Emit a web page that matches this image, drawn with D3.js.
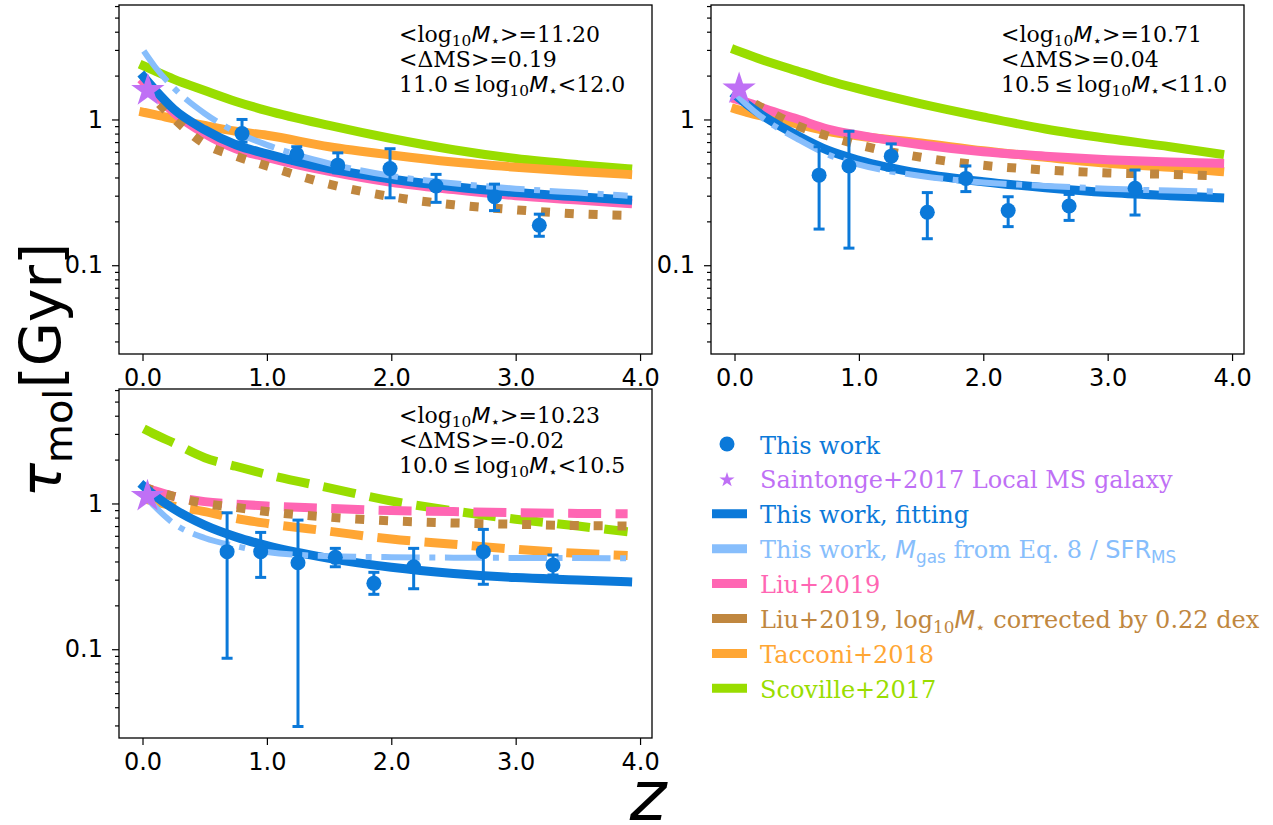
<!DOCTYPE html>
<html><head><meta charset="utf-8">
<script src="https://cdn.jsdelivr.net/npm/d3@7"></script>
<style>body{margin:0;background:#fff;} svg{display:block;}</style>
</head><body>
<svg id="chart" width="1273" height="825"></svg>
<script>
// ---------------- DATA ----------------
const zGrid = [0.01, 0.1, 0.25, 0.5, 0.75, 1.0, 1.5, 2.0, 2.5, 3.0, 3.5, 3.9];

// Panel 1: 11.0 <= log M < 12.0
const p1Scoville  = [2.33, 2.15, 1.89, 1.58, 1.33, 1.15, 0.91, 0.74, 0.62, 0.54, 0.49, 0.46];
const p1Tacconi   = [1.12, 1.08, 1.01, 0.91, 0.83, 0.78, 0.65, 0.57, 0.51, 0.47, 0.44, 0.42];
const p1Liu       = [1.80, 1.50, 1.12, 0.80, 0.63, 0.55, 0.44, 0.37, 0.33, 0.30, 0.28, 0.265];
const p1LiuCorr   = [1.70, 1.38, 1.02, 0.68, 0.56, 0.48, 0.36, 0.295, 0.26, 0.24, 0.225, 0.22];
const p1Fit       = [1.96, 1.60, 1.18, 0.85, 0.67, 0.58, 0.46, 0.39, 0.345, 0.315, 0.295, 0.28];
const p1Eq8       = [2.95, 2.30, 1.65, 1.10, 0.82, 0.67, 0.50, 0.41, 0.365, 0.335, 0.315, 0.30];
const p1Z   = [0.80, 1.24, 1.57, 1.99, 2.36, 2.83, 3.19];
const p1Tau = [0.80, 0.577, 0.486, 0.46, 0.35, 0.295, 0.188];
const p1Hi  = [1.00, 0.65, 0.59, 0.63, 0.42, 0.36, 0.224];
const p1Lo  = [0.70, 0.50, 0.43, 0.29, 0.27, 0.237, 0.158];
const p1Star = [0.043, 1.58];

// Panel 2: 10.5 <= log M < 11.0
const p2Scoville  = [2.99, 2.80, 2.52, 2.16, 1.85, 1.62, 1.28, 1.04, 0.86, 0.74, 0.65, 0.58];
const p2Tacconi   = [1.18, 1.12, 1.04, 0.93, 0.83, 0.77, 0.69, 0.61, 0.55, 0.50, 0.47, 0.44];
const p2Liu       = [1.38, 1.31, 1.18, 1.01, 0.86, 0.78, 0.67, 0.60, 0.56, 0.53, 0.51, 0.50];
const p2LiuCorr   = [1.60, 1.38, 1.17, 0.91, 0.77, 0.67, 0.55, 0.485, 0.45, 0.43, 0.42, 0.41];
const p2Fit       = [1.46, 1.27, 1.03, 0.78, 0.615, 0.525, 0.426, 0.374, 0.34, 0.315, 0.30, 0.29];
const p2Eq8       = [1.50, 1.26, 0.99, 0.74, 0.575, 0.49, 0.41, 0.37, 0.35, 0.335, 0.325, 0.32];
const p2Z   = [0.68, 0.92, 1.26, 1.55, 1.86, 2.20, 2.69, 3.22];
const p2Tau = [0.415, 0.48, 0.56, 0.231, 0.394, 0.237, 0.255, 0.337];
const p2Hi  = [0.65, 0.83, 0.68, 0.315, 0.48, 0.295, 0.306, 0.45];
const p2Lo  = [0.177, 0.131, 0.45, 0.152, 0.32, 0.184, 0.203, 0.221];
const p2Star = [0.037, 1.62];

// Panel 3: 10.0 <= log M < 10.5
const p3Scoville  = [3.26, 2.98, 2.60, 2.06, 1.80, 1.58, 1.28, 1.04, 0.89, 0.78, 0.70, 0.64];
const p3Tacconi   = [1.08, 1.03, 0.96, 0.88, 0.79, 0.73, 0.645, 0.57, 0.525, 0.485, 0.455, 0.44];
const p3Liu       = [1.30, 1.22, 1.12, 1.03, 0.99, 0.96, 0.925, 0.895, 0.88, 0.865, 0.855, 0.85];
const p3LiuCorr   = [1.30, 1.22, 1.12, 1.00, 0.94, 0.88, 0.805, 0.76, 0.735, 0.72, 0.705, 0.70];
const p3Fit       = [1.31, 1.13, 0.92, 0.71, 0.59, 0.513, 0.42, 0.365, 0.331, 0.31, 0.299, 0.29];
const p3Eq8       = [1.15, 0.95, 0.73, 0.58, 0.51, 0.465, 0.435, 0.428, 0.425, 0.423, 0.422, 0.42];
const p3Z   = [0.68, 0.95, 1.25, 1.55, 1.86, 2.18, 2.74, 3.30];
const p3Tau = [0.467, 0.467, 0.392, 0.427, 0.283, 0.368, 0.467, 0.378];
const p3Hi  = [0.863, 0.633, 0.769, 0.492, 0.337, 0.492, 0.664, 0.443];
const p3Lo  = [0.0867, 0.311, 0.0295, 0.368, 0.238, 0.26, 0.279, 0.323];
const p3Star = [0.04, 1.12];

// Annotation values
const meanMass = ["11.20", "10.71", "10.23"];
const meanDMS  = ["0.19", "0.04", "-0.02"];
const massLo   = ["11.0", "10.5", "10.0"];
const massHi   = ["12.0", "11.0", "10.5"];

// Ticks
const xTicks = [0, 1, 2, 3, 4];
const xTickLabels = ["0.0", "1.0", "2.0", "3.0", "4.0"];
const yTicks = [0.1, 1];
const yTickLabels = ["0.1", "1"];
const yMinorTicks = [0.03,0.04,0.05,0.06,0.07,0.08,0.09,0.2,0.3,0.4,0.5,0.6,0.7,0.8,0.9,2,3,4,5,6];

// ---------------- STYLE ----------------
const C = {
  blue: "#0b79d9", light: "#87befc", pink: "#ff66b3", brown: "#c0873f",
  orange: "#ffa634", green: "#99dd00", purple: "#bf70f5"
};
const SERIF = "DejaVu Serif", SANS = "DejaVu Sans";
const W = 533, H = 349;

const svg = d3.select("#chart");

const x = d3.scaleLinear().domain([-0.189, 4.096]).range([0, W]);
const y = d3.scaleLog().domain([0.0246, 6.1]).range([H, 0]);

function rich(textSel, segs, size) {
  let shifted = 0;
  segs.forEach(s => {
    const ts = textSel.append("tspan").text(s.t);
    const fs = s.sub ? size * 0.7 : size;
    ts.attr("font-size", fs)
      .attr("font-family", s.f === "sans" ? SANS : SERIF)
      .attr("font-style", s.it ? "italic" : "normal");
    const target = s.sub ? size * 0.2 : 0;
    const d = target - shifted;
    if (d !== 0) ts.attr("dy", d);
    shifted = target;
  });
}

const dashed = "33 14.4", dotted = "9 14.85", dashdot = "38.4 9.6 6 9.6";

const panels = [
  { x0: 119, y0: 5, ann: 0, annX: 399, annY: 37,
    series: [
      {v: p1Scoville, c: C.green, dash: null, w: 9},
      {v: p1Tacconi, c: C.orange, dash: null, w: 9},
      {v: p1Liu, c: C.pink, dash: null, w: 9},
      {v: p1LiuCorr, c: C.brown, dash: dotted, w: 9},
      {v: p1Fit, c: C.blue, dash: null, w: 9},
      {v: p1Eq8, c: C.light, dash: dashdot, w: 6}],
    pz: p1Z, pt: p1Tau, ph: p1Hi, pl: p1Lo, star: p1Star },
  { x0: 711, y0: 5, ann: 1, annX: 1001, annY: 37,
    series: [
      {v: p2Scoville, c: C.green, dash: null, w: 9},
      {v: p2Tacconi, c: C.orange, dash: null, w: 9},
      {v: p2Liu, c: C.pink, dash: null, w: 9},
      {v: p2LiuCorr, c: C.brown, dash: dotted, w: 9},
      {v: p2Fit, c: C.blue, dash: null, w: 9},
      {v: p2Eq8, c: C.light, dash: dashdot, w: 6}],
    pz: p2Z, pt: p2Tau, ph: p2Hi, pl: p2Lo, star: p2Star },
  { x0: 119, y0: 389, ann: 2, annX: 399, annY: 34,
    series: [
      {v: p3Scoville, c: C.green, dash: dashed, w: 9},
      {v: p3Tacconi, c: C.orange, dash: dashed, w: 9},
      {v: p3Liu, c: C.pink, dash: dashed, w: 9},
      {v: p3LiuCorr, c: C.brown, dash: dotted, w: 9},
      {v: p3Fit, c: C.blue, dash: null, w: 9},
      {v: p3Eq8, c: C.light, dash: dashdot, w: 6}],
    pz: p3Z, pt: p3Tau, ph: p3Hi, pl: p3Lo, star: p3Star }
];

const line = d3.line().x(d => x(d[0])).y(d => y(d[1])).curve(d3.curveMonotoneX);

panels.forEach((p, pi) => {
  const g = svg.append("g").attr("transform", `translate(${p.x0},${p.y0})`);
  const clipId = "clip" + pi;
  g.append("clipPath").attr("id", clipId).append("rect").attr("width", W).attr("height", H);
  const plot = g.append("g").attr("clip-path", `url(#${clipId})`);

  p.series.forEach(s => {
    const data = zGrid.map((z, i) => [z, s.v[i]]);
    plot.append("path").attr("d", line(data))
      .attr("fill", "none").attr("stroke", s.c).attr("stroke-width", s.w)
      .attr("stroke-dasharray", s.dash)
      .attr("stroke-linecap", s.dash ? "butt" : "square")
      .attr("stroke-linejoin", "round");
  });

  // error bars
  p.pz.forEach((z, i) => {
    const cx = x(z);
    plot.append("line").attr("x1", cx).attr("x2", cx)
      .attr("y1", y(p.pl[i])).attr("y2", y(p.ph[i]))
      .attr("stroke", C.blue).attr("stroke-width", 3);
    [p.pl[i], p.ph[i]].forEach(v => {
      plot.append("line").attr("x1", cx - 5.5).attr("x2", cx + 5.5)
        .attr("y1", y(v)).attr("y2", y(v))
        .attr("stroke", C.blue).attr("stroke-width", 3);
    });
    plot.append("circle").attr("cx", cx).attr("cy", y(p.pt[i])).attr("r", 7.5).attr("fill", C.blue);
  });

  // star
  plot.append("path").attr("d", d3.symbol(d3.symbolStar, 17.5 * 17.5 / 0.8908130915))
    .attr("transform", `translate(${x(p.star[0])},${y(p.star[1])})`)
    .attr("fill", C.purple);

  // axes
  const xa = g.append("g").attr("transform", `translate(0,${H})`)
    .call(d3.axisBottom(x).tickValues(xTicks).tickFormat((d, i) => xTickLabels[i]).tickSize(7).tickPadding(8));
  const ya = g.append("g")
    .call(d3.axisLeft(y).tickValues(yTicks).tickFormat((d, i) => yTickLabels[i]).tickSize(7).tickPadding(9));
  const ym = g.append("g")
    .call(d3.axisLeft(y).tickValues(yMinorTicks).tickFormat("").tickSize(4));
  [xa, ya, ym].forEach(a => {
    a.select(".domain").remove();
    a.selectAll("line").attr("stroke", "#000").attr("stroke-width", 1.2);
    a.selectAll("text").attr("font-family", SANS).attr("font-size", 24).attr("fill", "#000");
  });
  g.append("rect").attr("width", W).attr("height", H).attr("fill", "none")
    .attr("stroke", "#000").attr("stroke-width", 1.3);

  // annotation
  const k = p.ann;
  const lines = [
    [{t: "<log"}, {t: "10", sub: true}, {t: "M", f: "sans", it: true}, {t: "\u22C6", f: "sans", sub: true}, {t: ">=" + meanMass[k]}],
    [{t: "<\u0394MS>=" + meanDMS[k]}],
    [{t: massLo[k] + "\u2009\u2264\u2009log"}, {t: "10", sub: true}, {t: "M", f: "sans", it: true}, {t: "\u22C6", f: "sans", sub: true}, {t: "<" + massHi[k]}]
  ];
  lines.forEach((segs, li) => {
    const t = svg.append("text").attr("x", p.annX).attr("y", p.y0 + p.annY + li * 25).attr("fill", "#000");
    rich(t, segs, 22);
  });
});

// Y label
const yl = svg.append("text").attr("transform", "translate(61,370) rotate(-90)")
  .attr("text-anchor", "middle").attr("fill", "#000");
rich(yl, [{t: "\u03C4", f: "sans", it: true}, {t: "mol", f: "sans", sub: true}, {t: "[Gyr]", f: "sans"}], 57);

// X label
svg.append("text").attr("x", 648).attr("y", 820).attr("text-anchor", "middle")
  .attr("font-family", SANS).attr("font-style", "italic").attr("font-size", 70).text("z");

// Legend
const legendItems = [
  {kind: "circle", c: C.blue, segs: [{t: "This work"}]},
  {kind: "star", c: C.purple, segs: [{t: "Saintonge+2017 Local MS galaxy"}]},
  {kind: "line", c: C.blue, segs: [{t: "This work, fitting"}]},
  {kind: "line", c: C.light, segs: [{t: "This work, "}, {t: "M", f: "sans", it: true}, {t: "gas", f: "sans", sub: true}, {t: " from Eq. 8 / "}, {t: "SFR", f: "sans"}, {t: "MS", f: "sans", sub: true}]},
  {kind: "line", c: C.pink, segs: [{t: "Liu+2019"}]},
  {kind: "line", c: C.brown, segs: [{t: "Liu+2019, log"}, {t: "10", sub: true}, {t: "M", f: "sans", it: true}, {t: "\u22C6", f: "sans", sub: true}, {t: " corrected by 0.22 dex"}]},
  {kind: "line", c: C.orange, segs: [{t: "Tacconi+2018"}]},
  {kind: "line", c: C.green, segs: [{t: "Scoville+2017"}]}
];
const lg = svg.append("g");
legendItems.forEach((it, i) => {
  const cy = 444 + 34.9 * i;
  if (it.kind === "circle") {
    lg.append("circle").attr("cx", 727).attr("cy", cy).attr("r", 7.5).attr("fill", it.c);
  } else if (it.kind === "star") {
    lg.append("path").attr("d", d3.symbol(d3.symbolStar, 8 * 8 / 0.8908130915))
      .attr("transform", `translate(727,${cy + 1})`).attr("fill", it.c);
  } else {
    lg.append("line").attr("x1", 712).attr("x2", 747).attr("y1", cy).attr("y2", cy)
      .attr("stroke", it.c).attr("stroke-width", 9);
  }
  const t = lg.append("text").attr("x", 760).attr("y", cy + 9.5).attr("fill", it.c);
  rich(t, it.segs, 24);
});
</script>
</body></html>
